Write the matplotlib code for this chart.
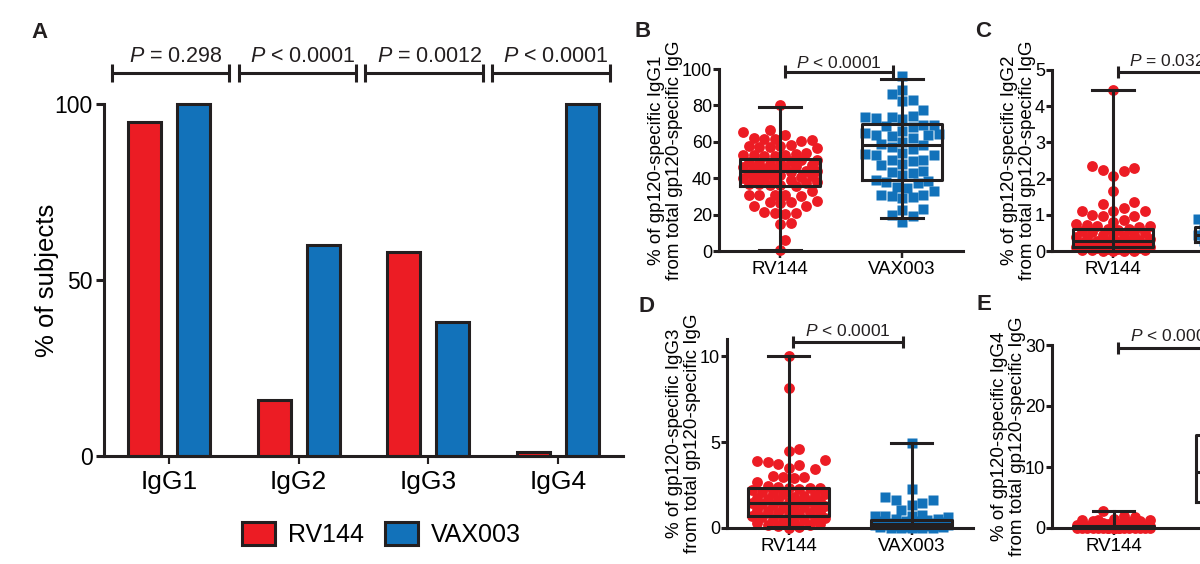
import numpy as np
import matplotlib
matplotlib.use('Agg')
import matplotlib.pyplot as plt
from matplotlib.patches import Patch

plt.rcParams['font.family'] = ['Liberation Sans', 'DejaVu Sans']
plt.rcParams['mathtext.fontset'] = 'custom'
plt.rcParams['mathtext.it'] = 'Liberation Sans:italic'
plt.rcParams['mathtext.rm'] = 'Liberation Sans'

INK = '#231f20'
RED = '#ec1c24'
BLUE = '#1272ba'

# ---- panel A: % of subjects with a response
subclasses = ['IgG1', 'IgG2', 'IgG3', 'IgG4']
pct_rv144 = [95, 16, 58, 1]
pct_vax003 = [100, 60, 38, 100]
pvals_a = ['= 0.298', '< 0.0001', '= 0.0012', '< 0.0001']

groups = ['RV144', 'VAX003']

# ---- panels B-E: % of gp120-specific IgGx
igg1_rv144 = [80, 66.7, 65.4, 63.6,
              62, 61.7, 61.5, 61, 60.5,
              58, 57.5, 57.5, 57, 57, 56.5,
              54, 53.5, 53, 53, 52.5, 52, 52,
              50, 50, 49.5, 49, 49, 48.5, 48,
              47, 46.5, 46, 46, 45.5, 45, 45,
              44, 44, 43.5, 43, 43, 42.5, 42,
              41, 40.5, 40, 40, 39.5, 39, 39,
              38, 37.5, 37, 37, 36.5, 36, 35.5,
              33, 31, 31, 30.5, 30.5, 30,
              27.5, 27, 27, 26.5, 25, 24.5,
              21.5, 21, 21, 20.5, 15.5, 15, 6, 0.3]
igg1_vax003 = [96, 88.5, 86.5, 83, 82.5, 77.5,
               74, 73.5, 73.5, 73, 72.5,
               69.5, 69, 68.5, 68,
               66, 65, 64.5, 64, 63.5, 63, 62,
               60, 59, 58, 57, 56,
               54, 53.5, 53, 52.5,
               50, 50, 49.5, 48, 47,
               44, 43.5, 43, 42,
               39, 38.5, 38, 37.5,
               35, 34.5, 33,
               31, 30.5, 30, 29.5, 29,
               23, 22.5, 20, 19.5, 16]
igg2_rv144 = [4.45, 2.35, 2.28, 2.25, 2.22, 2.08, 1.65, 1.35, 1.3, 1.2,
              1.1, 1.1, 1.1, 1.0, 0.98, 0.97, 0.85, 0.8, 0.75, 0.72,
              0.7, 0.68, 0.65, 0.62, 0.6, 0.58, 0.55, 0.52, 0.5, 0.48,
              0.45, 0.42, 0.4, 0.38, 0.35, 0.33, 0.3, 0.28, 0.27, 0.25,
              0.24, 0.22, 0.2, 0.19, 0.18, 0.16, 0.15, 0.14, 0.12, 0.11,
              0.1, 0.09, 0.08, 0.07, 0.06, 0.05, 0.04, 0.03, 0.02, 0.01,
              0.0, 0.0, 0.0]
igg2_vax003 = [1.45, 1.1, 0.95, 0.9, 0.88, 0.85, 0.8, 0.75, 0.7, 0.68,
               0.65, 0.6, 0.58, 0.55, 0.52, 0.5, 0.48, 0.45, 0.42, 0.4,
               0.38, 0.35, 0.32, 0.3, 0.28, 0.25, 0.22, 0.2, 0.15, 0.1, 0.05]
igg3_rv144 = [10, 8.15, 4.6, 4.5, 3.95, 3.9, 3.85, 3.7, 3.65, 3.5, 3.45,
              3.0, 2.95, 2.95, 2.9, 2.7, 2.45, 2.4, 2.35, 2.3, 2.3, 2.25,
              2.2, 2.1, 2.05, 2.0, 1.95, 1.9, 1.85, 1.8, 1.75, 1.7, 1.65,
              1.6, 1.55, 1.5, 1.5, 1.45, 1.4, 1.35, 1.3, 1.25, 1.2, 1.15,
              1.1, 1.05, 1.0, 0.95, 0.9, 0.85, 0.8, 0.75, 0.7, 0.65, 0.6,
              0.55, 0.5, 0.45, 0.4, 0.35, 0.3, 0.25, 0.2, 0.15, 0.1, 0.05, 0.0]
igg3_vax003 = [4.95, 2.25, 1.8, 1.65, 1.65, 1.45, 1.35, 1.05, 0.75, 0.72,
               0.7, 0.68, 0.65, 0.55, 0.5, 0.45, 0.42, 0.4, 0.38, 0.35,
               0.32, 0.3, 0.28, 0.25, 0.23, 0.2, 0.18, 0.15, 0.12, 0.1,
               0.1, 0.08, 0.05, 0.05, 0.03, 0.02, 0.0, 0.0, 0.0, 0.0]
igg4_rv144 = [2.8, 1.9, 1.85, 1.4, 1.3, 1.3, 1.25, 1.2, 1.1, 1.0, 0.9, 0.8,
              0.7, 0.6, 0.5, 0.45, 0.4, 0.35, 0.3, 0.25, 0.2, 0.2, 0.15,
              0.15, 0.1, 0.1, 0.1, 0.05, 0.05, 0.05,
              0, 0, 0, 0, 0, 0, 0, 0, 0, 0, 0, 0, 0, 0, 0, 0, 0, 0, 0, 0]
igg4_vax003 = [28, 24, 20, 18, 16.5, 15.5, 15, 14, 13, 12, 11, 10.5, 10,
               9.5, 9.2, 9, 8.5, 8, 7.5, 7, 6, 5.5, 5, 4.5, 4, 3.5, 3, 2,
               1.8, 1.2]

# box stats: min, Q1, median, Q3, max
box_igg1 = [[0.7, 35.5, 44, 50.7, 79], [18, 38.8, 58, 70, 94.7]]
box_igg2 = [[0, 0.12, 0.27, 0.62, 4.45], [0.05, 0.25, 0.45, 0.65, 1.45]]
box_igg3 = [[0.04, 0.68, 1.46, 2.33, 10], [0, 0.1, 0.23, 0.49, 4.95]]
box_igg4 = [[0, 0.02, 0.1, 0.3, 2.8], [1.2, 4.3, 9.2, 15.2, 28]]

pvals_small = ['< 0.0001', '= 0.0320', '< 0.0001', '< 0.0001']

fig = plt.figure(figsize=(12, 5.64), dpi=100)
LW = 2.2


def px_rect(x0, x1, ytop, ybot):
    W, H = 1200, 564
    return [x0 / W, 1 - ybot / H, (x1 - x0) / W, (ybot - ytop) / H]


def bracket(ax, x0, x1, y, h, label, ty, fs, tx=0.0):
    kw = dict(color=INK, lw=LW, clip_on=False, solid_capstyle='butt')
    ax.plot([x0, x1], [y, y], **kw)
    ax.plot([x0, x0], [y - h, y + h], **kw)
    ax.plot([x1, x1], [y - h, y + h], **kw)
    ax.text((x0 + x1) / 2 + tx, ty, '$P$ ' + label, ha='center', va='baseline',
            fontsize=fs, color=INK)


def swarm_x(ax, vals, pos, diam, half):
    vals = np.asarray(vals, float)
    ys = ax.transData.transform(np.column_stack([np.full(len(vals), pos), vals]))[:, 1]
    ppx = ax.bbox.width / (ax.get_xlim()[1] - ax.get_xlim()[0])
    step = diam * 0.5
    cands = [0.0]
    k = 1
    while k * step <= half:
        cands += [k * step, -k * step]
        k += 1
    px, py = [], []
    off = np.zeros(len(vals))
    for i in np.argsort(ys, kind='stable'):
        y = ys[i]
        best, best_d = 0.0, -1.0
        for c in cands:
            dmin = np.min(np.hypot(np.array(px) - c, np.array(py) - y)) if px else np.inf
            if dmin >= diam:
                best = c
                break
            if dmin > best_d:
                best, best_d = c, dmin
        px.append(best)
        py.append(y)
        off[i] = best
    return pos + off / ppx


# ---------------- panel A
axA = fig.add_axes(px_rect(104, 623, 104, 456))
x = np.arange(len(subclasses))
w, d = 0.254, 0.189
axA.bar(x - d, pct_rv144, w, color=RED, edgecolor=INK, linewidth=LW, clip_on=False)
axA.bar(x + d, pct_vax003, w, color=BLUE, edgecolor=INK, linewidth=LW, clip_on=False)
axA.set_xlim(-0.5, 3.5)
axA.set_ylim(0, 100)
axA.set_yticks([0, 50, 100])
axA.set_xticks(x)
axA.set_xticklabels(subclasses, fontsize=19)
axA.tick_params(axis='y', labelsize=16.5, length=6, width=LW, color=INK, pad=2)
axA.tick_params(axis='x', length=6, width=LW * 0.7, color=INK, pad=4)
for s in ['top', 'right']:
    axA.spines[s].set_visible(False)
for s in ['left', 'bottom']:
    axA.spines[s].set_linewidth(LW)
    axA.spines[s].set_color(INK)
axA.set_ylabel('% of subjects', fontsize=18.5, labelpad=-3)
for i, p in enumerate(pvals_a):
    x0 = -0.44 + 0.977 * i
    bracket(axA, x0, x0 + 0.907, 108.8, 2.6, p, 112, 15.5, tx=0.04)
axA.legend(handles=[Patch(facecolor=RED, edgecolor=INK, linewidth=LW, label=groups[0]),
                    Patch(facecolor=BLUE, edgecolor=INK, linewidth=LW, label=groups[1])],
           ncol=2, loc='center', bbox_to_anchor=(0.535, -0.224), frameon=False,
           fontsize=18, handlelength=1.32, handleheight=1.04, handletextpad=0.52,
           columnspacing=0.84, borderaxespad=0)


# ---------------- panels B-E
def small_panel(rect, top, yticks, sub, data, box, pval, bry, brh, pty):
    ax = fig.add_axes(rect)
    ax.set_xlim(-0.5, 1.5)
    ax.set_ylim(0, top)
    for s in ['top', 'right']:
        ax.spines[s].set_visible(False)
    for s in ['left', 'bottom']:
        ax.spines[s].set_linewidth(LW)
        ax.spines[s].set_color(INK)
    ax.set_yticks(yticks)
    ax.set_xticks([0, 1])
    ax.set_xticklabels(groups, fontsize=13.5)
    ax.tick_params(axis='y', labelsize=13, length=4, width=LW, color=INK, pad=1)
    ax.tick_params(axis='x', length=5, width=LW * 0.8, color=INK, pad=2)
    ax.set_ylabel('% of gp120-specific ' + sub + '\nfrom total gp120-specific IgG',
                  fontsize=13.5, linespacing=1.1, labelpad=-1)
    for k, (vals, col, mk, ms) in enumerate(zip(data, [RED, BLUE], ['o', 's'], [7.8, 7.2])):
        xs = swarm_x(ax, vals, k, 10.5, 38)
        ax.plot(xs, vals, mk, ms=ms, color=col, mec='none', clip_on=False, zorder=2)
    stats = [dict(whislo=b[0], q1=b[1], med=b[2], q3=b[3], whishi=b[4], fliers=[])
             for b in box]
    lp = dict(color=INK, linewidth=LW)
    ax.bxp(stats, positions=[0, 1], widths=0.66, capwidths=0.34, showfliers=False,
           boxprops=lp, whiskerprops=lp, capprops=lp, medianprops=lp,
           manage_ticks=False, zorder=3)
    for k, b in enumerate(box):
        ax.plot([k, k], [b[1], b[3]], color=INK, lw=LW, zorder=3)
    for art in ax.lines:
        art.set_clip_on(False)
    bracket(ax, 0.04, 0.93, bry, brh, pval, pty, 12.5)
    return ax


small_panel(px_rect(719, 963, 69, 251), 100, [0, 20, 40, 60, 80, 100], 'IgG1',
            [igg1_rv144, igg1_vax003], box_igg1, pvals_small[0], 98.4, 3.6, 100.5)
small_panel(px_rect(1052, 1296, 70, 251), 5, [0, 1, 2, 3, 4, 5], 'IgG2',
            [igg2_rv144, igg2_vax003], box_igg2, pvals_small[1], 4.94, 0.17, 5.1)
small_panel(px_rect(727, 973, 339, 528), 11, [0, 5, 10], 'IgG3',
            [igg3_rv144, igg3_vax003], box_igg3, pvals_small[2], 10.8, 0.35, 11.15)
small_panel(px_rect(1052, 1298, 345, 528), 30, [0, 10, 20, 30], 'IgG4',
            [igg4_rv144, igg4_vax003], box_igg4, pvals_small[3], 29.5, 1.0, 30.6)

for lbl, fx, fy in [('A', 31, 38), ('B', 634, 37), ('C', 975, 37),
                    ('D', 638, 312), ('E', 977, 310)]:
    fig.text(fx / 1200, 1 - fy / 564, lbl, fontsize=16, fontweight='bold',
             color=INK, va='baseline')

fig.savefig('out.png', dpi=100)
